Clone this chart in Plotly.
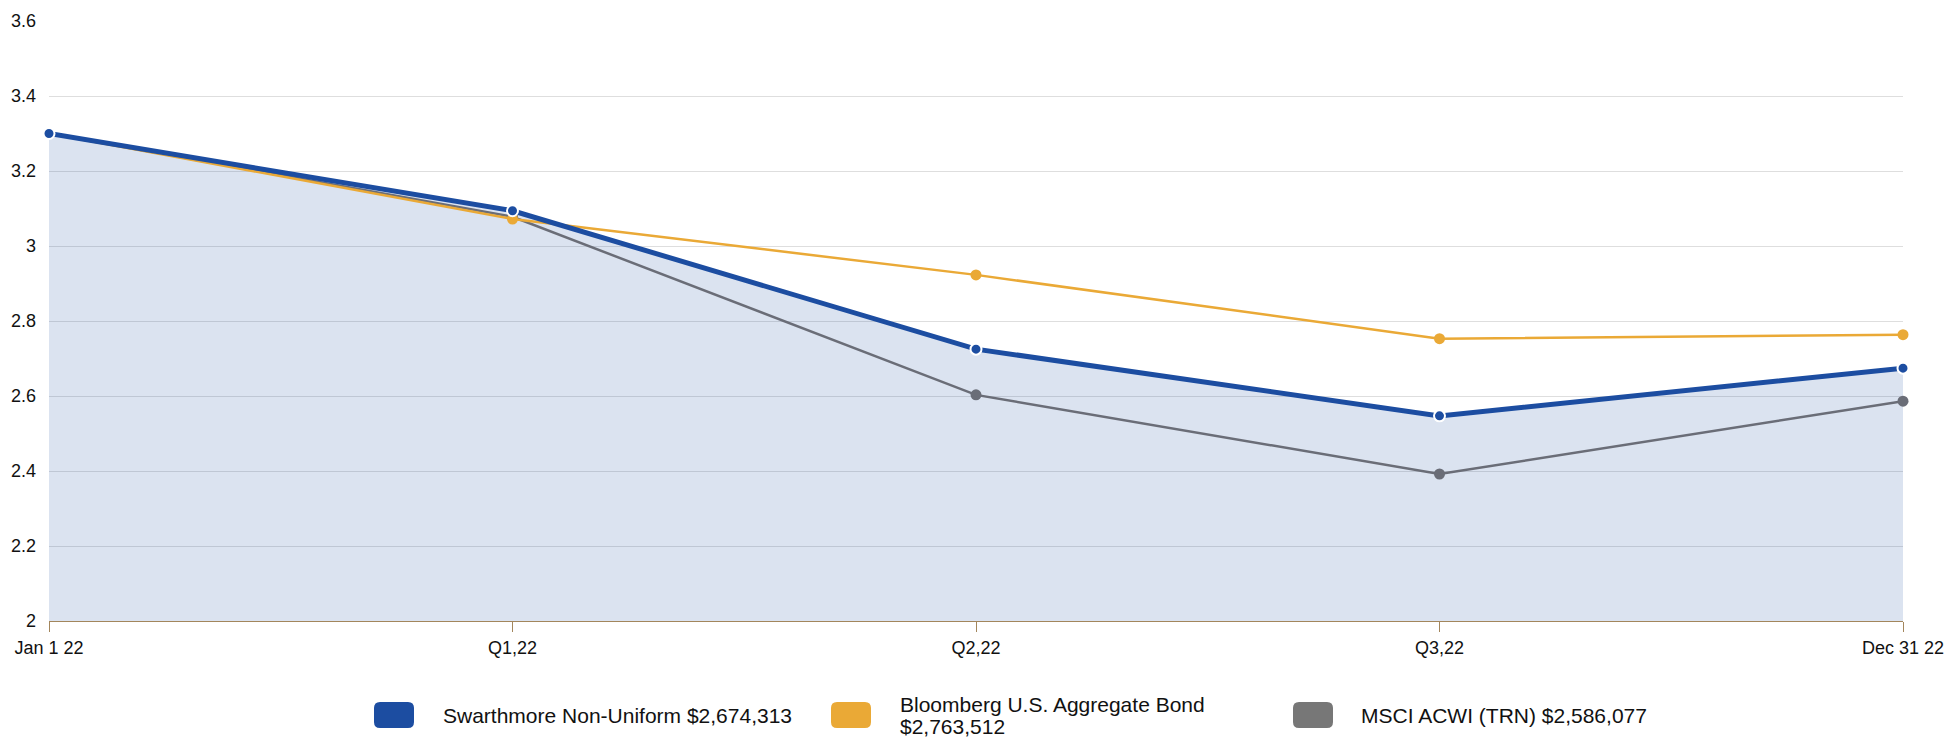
import plotly.graph_objects as go

# Growth of a hypothetical investment over 2022 (values in $ millions)
periods = ["Jan 1 22", "Q1,22", "Q2,22", "Q3,22", "Dec 31 22"]
swarthmore = [3.30, 3.094, 2.725, 2.547, 2.674313]
bloomberg = [3.30, 3.072, 2.923, 2.753, 2.763512]
msci = [3.30, 3.078, 2.603, 2.392, 2.586077]
y_ticks = [2.0, 2.2, 2.4, 2.6, 2.8, 3.0, 3.2, 3.4, 3.6]
legend_lines = [
    ["Swarthmore Non-Uniform $2,674,313"],
    ["Bloomberg U.S. Aggregate Bond", "$2,763,512"],
    ["MSCI ACWI (TRN) $2,586,077"],
]

BLUE = "#1c4da1"
ORANGE = "#eaa936"
GRAY_LINE = "#6a6d77"
GRAY_KEY = "#777777"
FILL = "rgba(28,77,161,0.155)"
AXIS = "#a3865c"
FONT = "Liberation Sans, Arial, sans-serif"

W, H = 1950, 739
ML, MR, MT, MB = 49, 47, 21, 118
PW, PH = W - ML - MR, H - MT - MB


def px(x, y):
    """Convert page pixel coordinates to paper coordinates."""
    return (x - ML) / PW, (H - MB - y) / PH


def rounded_rect(x0, y0, x1, y1, r):
    pts = [
        ("M", [(x0 + r, y0)]),
        ("L", [(x1 - r, y0)]),
        ("Q", [(x1, y0), (x1, y0 + r)]),
        ("L", [(x1, y1 - r)]),
        ("Q", [(x1, y1), (x1 - r, y1)]),
        ("L", [(x0 + r, y1)]),
        ("Q", [(x0, y1), (x0, y1 - r)]),
        ("L", [(x0, y0 + r)]),
        ("Q", [(x0, y0), (x0 + r, y0)]),
    ]
    path = ""
    for cmd, coords in pts:
        path += cmd + " " + " ".join("%.6f,%.6f" % px(cx, cy) for cx, cy in coords) + " "
    return path + "Z"


fig = go.Figure()

# shaded area beneath the fund line
fig.add_trace(go.Scatter(
    x=periods, y=swarthmore, mode="lines", fill="tozeroy",
    fillcolor=FILL, line=dict(width=0), hoverinfo="skip", showlegend=False,
))
fig.add_trace(go.Scatter(
    x=periods, y=msci, mode="lines+markers", name=legend_lines[2][0],
    line=dict(color=GRAY_LINE, width=2.5),
    marker=dict(color=GRAY_LINE, size=11), cliponaxis=False, showlegend=False,
))
fig.add_trace(go.Scatter(
    x=periods, y=bloomberg, mode="lines+markers", name=" ".join(legend_lines[1]),
    line=dict(color=ORANGE, width=2.5),
    marker=dict(color=ORANGE, size=11), cliponaxis=False, showlegend=False,
))
fig.add_trace(go.Scatter(
    x=periods, y=swarthmore, mode="lines+markers", name=legend_lines[0][0],
    line=dict(color=BLUE, width=5),
    marker=dict(color=BLUE, size=11, line=dict(color="white", width=2)),
    cliponaxis=False, showlegend=False,
))

# custom legend row
key_colors = [BLUE, ORANGE, GRAY_KEY]
key_x = [374, 831, 1293]
text_x = [441, 898, 1359]
shapes = []
annotations = []
for color, kx, tx, lines in zip(key_colors, key_x, text_x, legend_lines):
    shapes.append(dict(
        type="path", xref="paper", yref="paper",
        path=rounded_rect(kx, 702, kx + 40, 728, 6),
        fillcolor=color, line=dict(width=0), layer="above",
    ))
    if len(lines) == 1:
        ys = [716]
    else:
        ys = [704, 726]
    for line, ty in zip(lines, ys):
        ax, ay = px(tx, ty)
        annotations.append(dict(
            x=ax, y=ay, xref="paper", yref="paper", text=line,
            showarrow=False, xanchor="left", yanchor="middle",
            font=dict(size=21, color="#111111", family=FONT),
        ))

fig.update_layout(
    width=W, height=H,
    margin=dict(l=ML, r=MR, t=MT, b=MB, autoexpand=False),
    paper_bgcolor="white", plot_bgcolor="white",
    font=dict(family=FONT, size=18, color="#111111"),
    hovermode=False,
    shapes=shapes, annotations=annotations,
    xaxis=dict(
        type="category", range=[0, len(periods) - 1], automargin=False,
        showgrid=False, showline=True, linecolor=AXIS, linewidth=1,
        ticks="outside", ticklen=10, tickcolor=AXIS, tickwidth=1,
        tickfont=dict(size=18, color="#111111"), zeroline=False,
    ),
    yaxis=dict(
        range=[2, 3.6], tickvals=y_ticks, automargin=False,
        ticktext=["%g" % v for v in y_ticks],
        showgrid=True, gridcolor="#dedede", gridwidth=1,
        showline=False, zeroline=False, ticks="", ticklabelstandoff=12,
        tickfont=dict(size=18, color="#111111"),
    ),
)

fig.write_html("out.html")
